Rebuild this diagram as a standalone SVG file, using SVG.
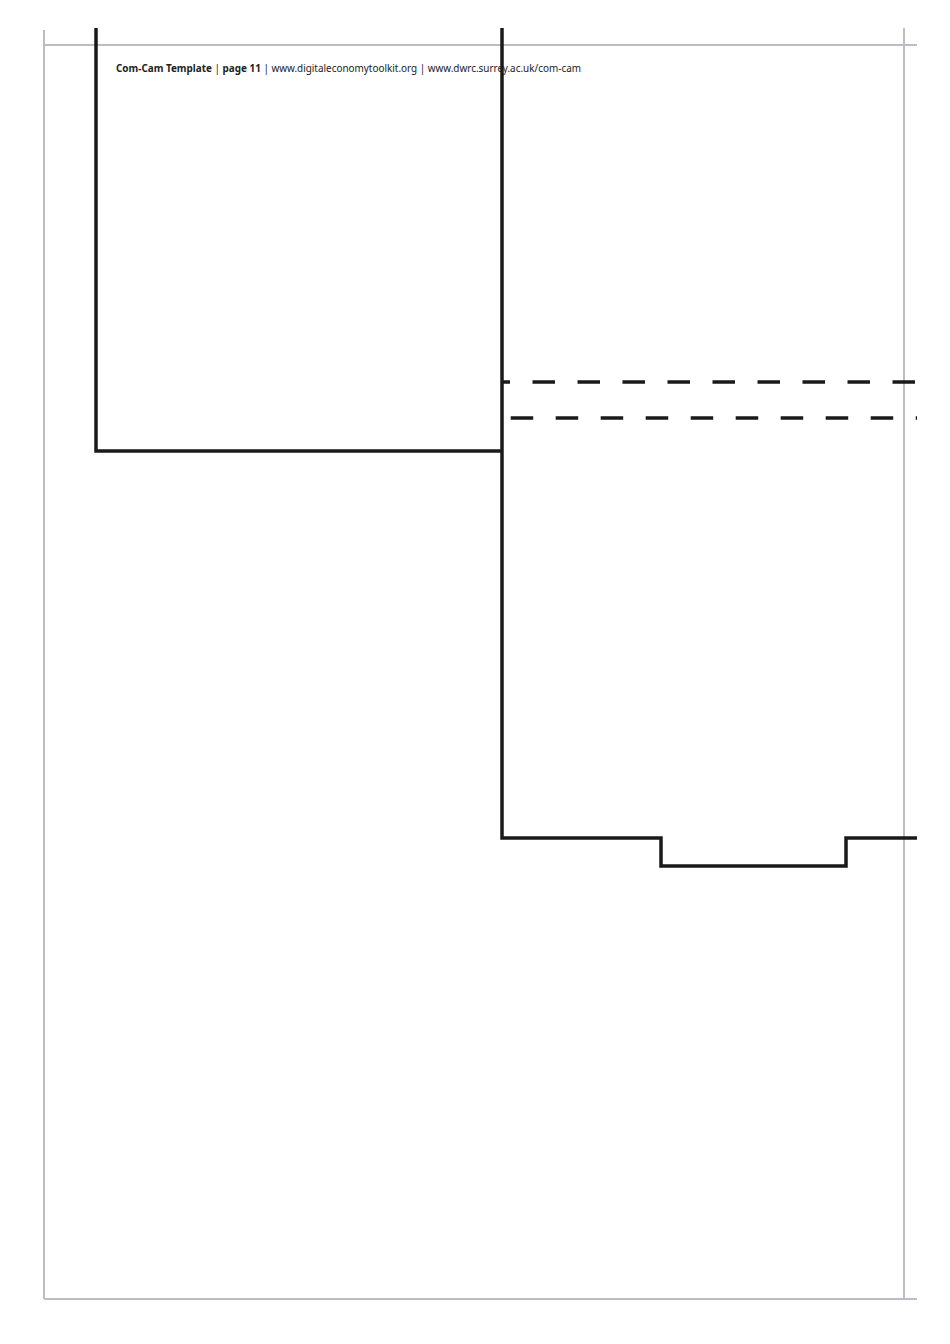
<svg xmlns="http://www.w3.org/2000/svg" width="950" height="1344" viewBox="0 0 950 1344">
<style>
.grey{stroke:#bdbdc6;stroke-width:2;fill:none}
.cut{stroke:#1a1a1a;stroke-width:3.5;fill:none;stroke-linecap:butt;stroke-linejoin:miter}
.fold{stroke:#1a1a1a;stroke-width:3.5;fill:none;stroke-dasharray:22.5 22.5}
.hdr{font-family:"Noto Sans","Open Sans","Liberation Sans",sans-serif;font-size:10px;fill:#222}
</style>
<rect width="950" height="1344" fill="#ffffff"/>
<g id="page-frame">
<line class="grey" x1="44" y1="30" x2="44" y2="1299"/>
<line class="grey" x1="44" y1="45" x2="917" y2="45"/>
<line class="grey" x1="904" y1="28" x2="904" y2="1299"/>
<line class="grey" x1="44" y1="1299" x2="917" y2="1299"/>
</g>
<g id="header">
<text class="hdr" x="116" y="72" textLength="465" lengthAdjust="spacingAndGlyphs"><tspan font-weight="bold">Com-Cam Template</tspan> | <tspan font-weight="bold">page 11</tspan> | www.digitaleconomytoolkit.org | www.dwrc.surrey.ac.uk/com-cam</text>
</g>
<g id="cut-lines">
<polyline class="cut" points="96,28 96,451 502,451"/>
<polyline class="cut" points="502,28 502,838 661,838 661,866 846,866 846,838 917,838"/>
</g>
<g id="fold-lines">
<line class="fold" x1="502" y1="382" x2="917" y2="382" stroke-dashoffset="14.5"/>
<line class="fold" x1="510.7" y1="418" x2="917" y2="418"/>
</g>
</svg>
